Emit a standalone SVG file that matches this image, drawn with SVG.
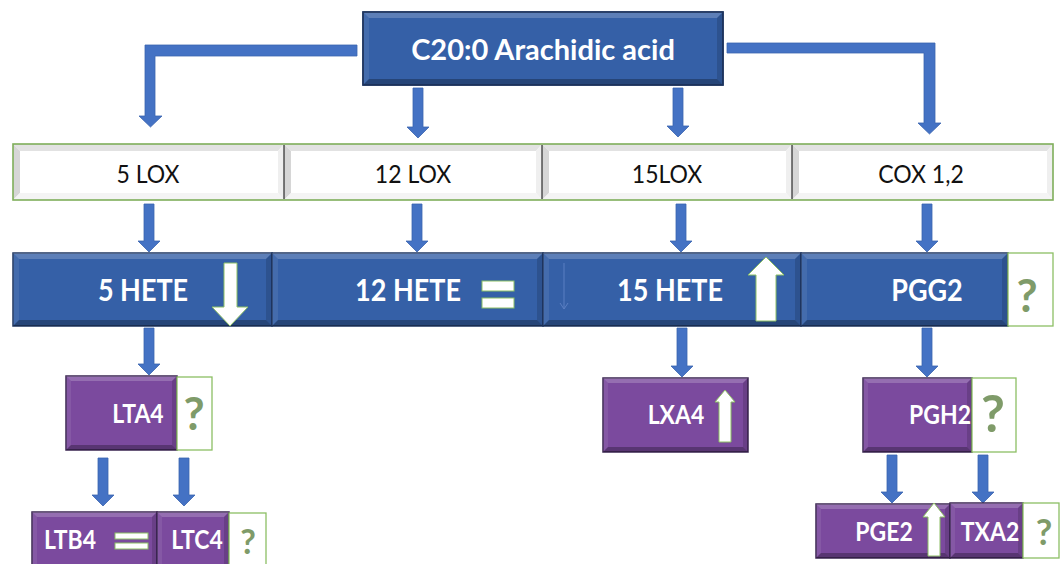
<svg xmlns="http://www.w3.org/2000/svg" width="1064" height="564" viewBox="0 0 1064 564">
<style>
.bg{fill:#ffffff}
.blue{fill:#3560a7;stroke:#1e355f;stroke-width:1.5}
.purple{fill:#7b4a9e;stroke:#3a2450;stroke-width:1.5}
.hl{fill:#ffffff;fill-opacity:.2}
.hl2{fill:#ffffff;fill-opacity:.08}
.sh{fill:#000000;fill-opacity:.14}
.sh2{fill:#000000;fill-opacity:.28}
.lox{fill:#ffffff}
.lt{fill:#e2e2e2}
.ll{fill:#d6d6d6}
.lr{fill:#efefef}
.lb{fill:#f4f4f4}
.loxframe{fill:none;stroke:#7fae5a;stroke-width:1.6}
.sep{stroke:#2a2a2a;stroke-width:1.2}
.q{fill:#ffffff;stroke:#8cbf64;stroke-width:1.3}
.qt{font-family:Lato,"Liberation Sans",sans-serif;font-weight:700;fill:#7f9b69;text-anchor:middle}
.ind{fill:#ffffff;stroke:#8cbf64;stroke-width:1}
.arr{fill:#4472c4;stroke:#3b65b0;stroke-width:.8}
.faint{fill:none;stroke:#5b7fc2;stroke-width:1}
.t1{font-family:Lato,"Liberation Sans",sans-serif;font-weight:700;font-size:29px;fill:#ffffff;text-anchor:middle}
.th{font-family:Lato,"Liberation Sans",sans-serif;font-weight:700;font-size:27px;fill:#ffffff;text-anchor:middle}
.tp{font-family:Lato,"Liberation Sans",sans-serif;font-weight:700;font-size:23px;fill:#ffffff;text-anchor:middle}
.tl{font-family:Lato,"Liberation Sans",sans-serif;font-weight:400;font-size:23px;fill:#111111;text-anchor:middle}
</style>
<rect class="bg" x="0" y="0" width="1064" height="564"/>

<g id="connectors">
  <polygon class="arr" points="357,45 357,56 155,56 155,116 162,116 150.5,127 139,116 145,116 145,45"/>
  <polygon class="arr" points="727,43 935,43 935,123 941,123 929.5,134 918,123 924,123 924,53 727,53"/>
  <polygon class="arr" points="413,88 423,88 423,127 429,127 418,138 407,127 413,127"/>
  <polygon class="arr" points="673,88 683,88 683,126 689,126 678,137 667,126 673,126"/>
  <polygon class="arr" points="144,204 154,204 154,241 160,241 149,252 138,241 144,241"/>
  <polygon class="arr" points="412,204 422,204 422,241 428,241 417,252 406,241 412,241"/>
  <polygon class="arr" points="676,204 686,204 686,241 692,241 681,252 670,241 676,241"/>
  <polygon class="arr" points="922,204 932,204 932,241 938,241 927,252 916,241 922,241"/>
  <polygon class="arr" points="144,328 154,328 154,364 160,364 149,375 138,364 144,364"/>
  <polygon class="arr" points="677,328 687,328 687,366 693,366 682,377 671,366 677,366"/>
  <polygon class="arr" points="922,328 932,328 932,366 938,366 927,377 916,366 922,366"/>
  <polygon class="arr" points="98,458 108,458 108,495 114,495 103,506 92,495 98,495"/>
  <polygon class="arr" points="179,458 189,458 189,495 195,495 184,506 173,495 179,495"/>
  <polygon class="arr" points="887,455 897,455 897,492 903,492 892,503 881,492 887,492"/>
  <polygon class="arr" points="978,455 988,455 988,492 994,492 983,503 972,492 978,492"/>
</g>

<g id="n-arachidic">
  <rect class="blue" x="363" y="12" width="360" height="73"/>
  <polygon class="hl" points="363,12 723,12 717,18 369,18"/>
  <polygon class="hl2" points="363,12 369,18 369,79 363,85"/>
  <polygon class="sh" points="723,12 723,85 717,79 717,18"/>
  <polygon class="sh2" points="363,85 723,85 717,79 369,79"/>
  <rect x="363" y="12" width="360" height="73" fill="none" stroke="#1e355f" stroke-width="1.5"/>
  <text class="t1" x="543" y="60">C20:0 Arachidic acid</text>
</g>

<g id="n-5lox">
  <rect class="lox" x="13" y="144" width="271" height="56"/>
  <polygon class="lt" points="13,144 284,144 278,151 20,151"/>
  <polygon class="ll" points="13,144 20,151 20,193 13,200"/>
  <polygon class="lr" points="284,144 284,200 278,193 278,151"/>
  <polygon class="lb" points="13,200 284,200 278,193 20,193"/>
  <text class="tl" transform="translate(148 183) scale(1 1.13)">5 LOX</text>
</g>
<g id="n-12lox">
  <rect class="lox" x="284" y="144" width="258" height="56"/>
  <polygon class="lt" points="284,144 542,144 536,151 291,151"/>
  <polygon class="ll" points="284,144 291,151 291,193 284,200"/>
  <polygon class="lr" points="542,144 542,200 536,193 536,151"/>
  <polygon class="lb" points="284,200 542,200 536,193 291,193"/>
  <text class="tl" transform="translate(413 183) scale(1 1.13)">12 LOX</text>
</g>
<g id="n-15lox">
  <rect class="lox" x="542" y="144" width="250" height="56"/>
  <polygon class="lt" points="542,144 792,144 786,151 549,151"/>
  <polygon class="ll" points="542,144 549,151 549,193 542,200"/>
  <polygon class="lr" points="792,144 792,200 786,193 786,151"/>
  <polygon class="lb" points="542,200 792,200 786,193 549,193"/>
  <text class="tl" transform="translate(667 183) scale(1 1.13)">15LOX</text>
</g>
<g id="n-cox">
  <rect class="lox" x="792" y="144" width="261" height="56"/>
  <polygon class="lt" points="792,144 1053,144 1047,151 799,151"/>
  <polygon class="ll" points="792,144 799,151 799,193 792,200"/>
  <polygon class="lr" points="1053,144 1053,200 1047,193 1047,151"/>
  <polygon class="lb" points="792,200 1053,200 1047,193 799,193"/>
  <text class="tl" transform="translate(921 183) scale(1 1.13)">COX 1,2</text>
</g>
<g id="lox-frame">
  <rect class="loxframe" x="13" y="144" width="1040" height="56"/>
  <line class="sep" x1="284" y1="145" x2="284" y2="199"/>
  <line class="sep" x1="542" y1="145" x2="542" y2="199"/>
  <line class="sep" x1="792" y1="145" x2="792" y2="199"/>
</g>

<g id="n-5hete">
  <rect class="blue" x="13" y="253" width="259" height="73"/>
  <polygon class="hl" points="13,253 272,253 266,259 19,259"/>
  <polygon class="hl2" points="13,253 19,259 19,320 13,326"/>
  <polygon class="sh" points="272,253 272,326 266,320 266,259"/>
  <polygon class="sh2" points="13,326 272,326 266,320 19,320"/>
  <text class="th" transform="translate(143 301) scale(1 1.12)">5 HETE</text>
  <polygon class="ind" points="224,263 237,263 237,307 248,307 230,326 212,307 224,307"/>
</g>
<g id="n-12hete">
  <rect class="blue" x="272" y="253" width="271" height="73"/>
  <polygon class="hl" points="272,253 543,253 537,259 278,259"/>
  <polygon class="hl2" points="272,253 278,259 278,320 272,326"/>
  <polygon class="sh" points="543,253 543,326 537,320 537,259"/>
  <polygon class="sh2" points="272,326 543,326 537,320 278,320"/>
  <text class="th" transform="translate(408 301) scale(1 1.12)">12 HETE</text>
  <rect class="ind" x="482" y="281" width="32" height="10"/>
  <rect class="ind" x="482" y="298" width="32" height="10"/>
</g>
<g id="n-15hete">
  <rect class="blue" x="543" y="253" width="258" height="73"/>
  <polygon class="hl" points="543,253 801,253 795,259 549,259"/>
  <polygon class="hl2" points="543,253 549,259 549,320 543,326"/>
  <polygon class="sh" points="801,253 801,326 795,320 795,259"/>
  <polygon class="sh2" points="543,326 801,326 795,320 549,320"/>
  <path class="faint" d="M564,263 L564,309 M560,303 L564,309 L568,303"/>
  <text class="th" transform="translate(670 301) scale(1 1.12)">15 HETE</text>
  <polygon class="ind" points="766,257 784,275 776,275 776,321 756,321 756,275 748,275"/>
</g>
<g id="n-pgg2">
  <rect class="blue" x="801" y="253" width="207" height="73"/>
  <polygon class="hl" points="801,253 1008,253 1002,259 807,259"/>
  <polygon class="hl2" points="801,253 807,259 807,320 801,326"/>
  <polygon class="sh" points="1008,253 1008,326 1002,320 1002,259"/>
  <polygon class="sh2" points="801,326 1008,326 1002,320 807,320"/>
  <text class="th" transform="translate(927 301) scale(1 1.12)">PGG2</text>
  <rect class="q" x="1008" y="253" width="45" height="73"/>
  <text class="qt" x="1027" y="312" font-size="46">?</text>
</g>

<g id="n-lta4">
  <rect class="purple" x="66" y="376" width="111" height="74"/>
  <polygon class="hl" points="66,376 177,376 172,381 71,381"/>
  <polygon class="hl2" points="66,376 71,381 71,445 66,450"/>
  <polygon class="sh" points="177,376 177,450 172,445 172,381"/>
  <polygon class="sh2" points="66,450 177,450 172,445 71,445"/>
  <text class="tp" transform="translate(138 423) scale(1 1.12)">LTA4</text>
  <rect class="q" x="177" y="377" width="35" height="73"/>
  <text class="qt" x="194" y="430" font-size="46">?</text>
</g>
<g id="n-lxa4">
  <rect class="purple" x="603" y="378" width="145" height="74"/>
  <polygon class="hl" points="603,378 748,378 743,383 608,383"/>
  <polygon class="hl2" points="603,378 608,383 608,447 603,452"/>
  <polygon class="sh" points="748,378 748,452 743,447 743,383"/>
  <polygon class="sh2" points="603,452 748,452 743,447 608,447"/>
  <text class="tp" transform="translate(676 424) scale(1 1.12)">LXA4</text>
  <polygon class="ind" points="725,390 735,402 731,402 731,442 719,442 719,402 715,402"/>
</g>
<g id="n-pgh2">
  <rect class="purple" x="863" y="378" width="109" height="74"/>
  <polygon class="hl" points="863,378 972,378 967,383 868,383"/>
  <polygon class="hl2" points="863,378 868,383 868,447 863,452"/>
  <polygon class="sh" points="972,378 972,452 967,447 967,383"/>
  <polygon class="sh2" points="863,452 972,452 967,447 868,447"/>
  <text class="tp" transform="translate(940 424) scale(1 1.12)">PGH2</text>
  <rect class="q" x="972" y="378" width="44" height="74"/>
  <text class="qt" x="993" y="432" font-size="52">?</text>
</g>
<g id="n-ltb4">
  <rect class="purple" x="32" y="512" width="125" height="60"/>
  <polygon class="hl" points="32,512 157,512 152,517 37,517"/>
  <polygon class="hl2" points="32,512 37,517 37,572 32,572"/>
  <polygon class="sh" points="157,512 157,572 152,572 152,517"/>
  <text class="tp" transform="translate(70 549) scale(1 1.12)">LTB4</text>
  <rect class="ind" x="115" y="533" width="33" height="6"/>
  <rect class="ind" x="115" y="543" width="33" height="6"/>
</g>
<g id="n-ltc4">
  <rect class="purple" x="157" y="512" width="72" height="60"/>
  <polygon class="hl" points="157,512 229,512 224,517 162,517"/>
  <polygon class="hl2" points="157,512 162,517 162,572 157,572"/>
  <polygon class="sh" points="229,512 229,572 224,572 224,517"/>
  <text class="tp" transform="translate(197 549) scale(1 1.12)">LTC4</text>
  <rect class="q" x="229" y="513" width="37" height="59"/>
  <text class="qt" x="248" y="554" font-size="34">?</text>
</g>
<g id="n-pge2">
  <rect class="purple" x="816" y="504" width="134" height="54"/>
  <polygon class="hl" points="816,504 950,504 945,509 821,509"/>
  <polygon class="hl2" points="816,504 821,509 821,553 816,558"/>
  <polygon class="sh" points="950,504 950,558 945,553 945,509"/>
  <polygon class="sh2" points="816,558 950,558 945,553 821,553"/>
  <text class="tp" transform="translate(884 541) scale(1 1.12)">PGE2</text>
  <polygon class="ind" points="934,503 945,517 940,517 940,556 928,556 928,517 923,517"/>
</g>
<g id="n-txa2">
  <rect class="purple" x="950" y="503" width="73" height="55"/>
  <polygon class="hl" points="950,503 1023,503 1018,508 955,508"/>
  <polygon class="hl2" points="950,503 955,508 955,553 950,558"/>
  <polygon class="sh" points="1023,503 1023,558 1018,553 1018,508"/>
  <polygon class="sh2" points="950,558 1023,558 1018,553 955,553"/>
  <text class="tp" transform="translate(990 541) scale(1 1.12)">TXA2</text>
  <rect class="q" x="1023" y="503" width="36" height="55"/>
  <text class="qt" x="1044" y="545" font-size="36">?</text>
</g>
</svg>
